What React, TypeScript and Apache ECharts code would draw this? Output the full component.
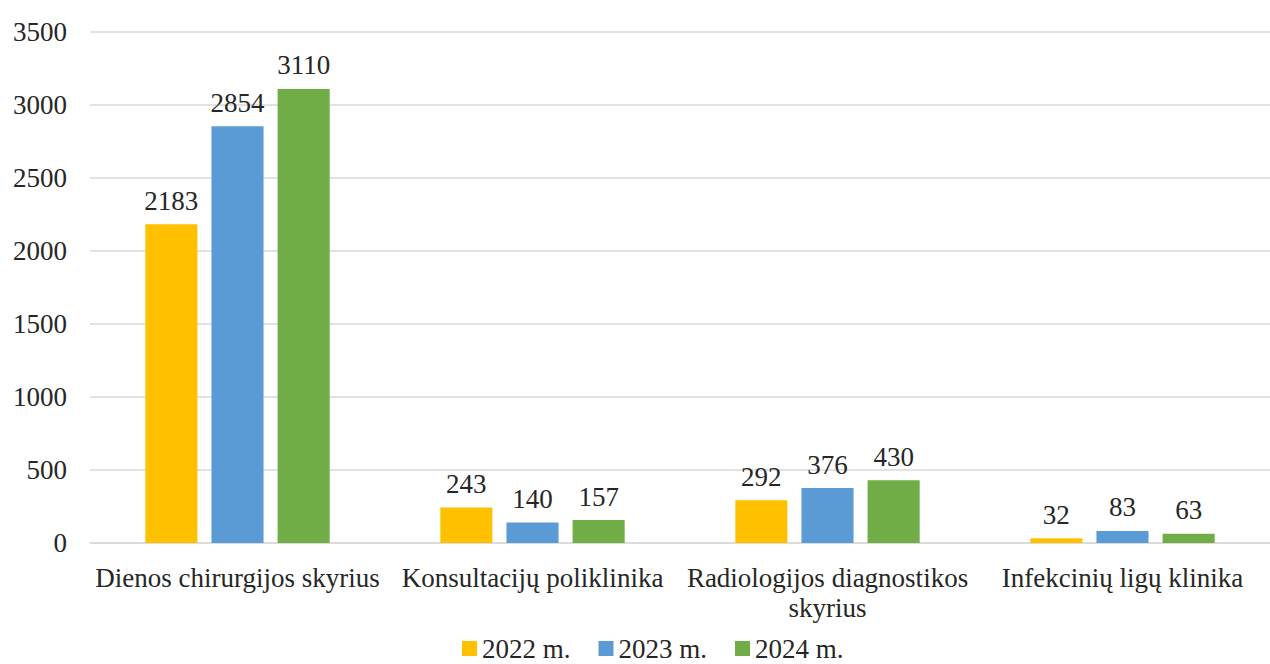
import React, { useEffect, useRef } from "react";
import * as echarts from "echarts";

const categories = [
  "Dienos chirurgijos skyrius",
  "Konsultacijų poliklinika",
  "Radiologijos diagnostikos\nskyrius",
  "Infekcinių ligų klinika",
];
const seriesNames = ["2022 m.", "2023 m.", "2024 m."];
const values2022 = [2183, 243, 292, 32];
const values2023 = [2854, 140, 376, 83];
const values2024 = [3110, 157, 430, 63];
const colors = ["#FFC000", "#5B9BD5", "#70AD47"];

const FONT = "'Liberation Serif', 'Times New Roman', serif";
const FS = 27;
const TXT = "#262626";

export default function App() {
  const ref = useRef<HTMLDivElement>(null);
  useEffect(() => {
    document.body.style.margin = "0";
    const chart = echarts.init(ref.current!, null, { renderer: "svg" });
    const data = [values2022, values2023, values2024];
    chart.setOption({
      animation: false,
      backgroundColor: "#ffffff",
      textStyle: { fontFamily: FONT },
      grid: { left: 90, right: 0, top: 32, bottom: 121, containLabel: false },
      legend: {
        top: 635,
        left: 462,
        padding: 0,
        icon: "rect",
        itemWidth: 15,
        itemHeight: 15,
        itemGap: 28,
        textStyle: { fontFamily: FONT, fontSize: FS, color: TXT, padding: [0, 0, 0, 0] },
        data: seriesNames,
      },
      xAxis: {
        type: "category",
        data: categories,
        axisLine: { show: true, lineStyle: { color: "#d9d9d9", width: 1.5 } },
        axisTick: { show: false },
        axisLabel: {
          fontFamily: FONT,
          fontSize: FS,
          color: TXT,
          margin: 20,
          lineHeight: 30,
          interval: 0,
        },
      },
      yAxis: {
        type: "value",
        min: 0,
        max: 3500,
        interval: 500,
        axisLine: { show: false },
        axisTick: { show: false },
        splitLine: { lineStyle: { color: "#d9d9d9", width: 1.5 } },
        axisLabel: {
          fontFamily: FONT,
          fontSize: FS,
          color: TXT,
          margin: 23,
          formatter: (v: number) => String(v),
        },
      },
      series: seriesNames.map((name, i) => ({
        name,
        type: "bar",
        data: data[i],
        barGap: "27%",
        barCategoryGap: "37.5%",
        itemStyle: { color: colors[i] },
        label: {
          show: true,
          position: "top",
          distance: 10,
          fontFamily: FONT,
          fontSize: FS,
          color: TXT,
        },
      })),
    });
    return () => chart.dispose();
  }, []);
  return <div ref={ref} style={{ width: 1270, height: 664 }} />;
}
